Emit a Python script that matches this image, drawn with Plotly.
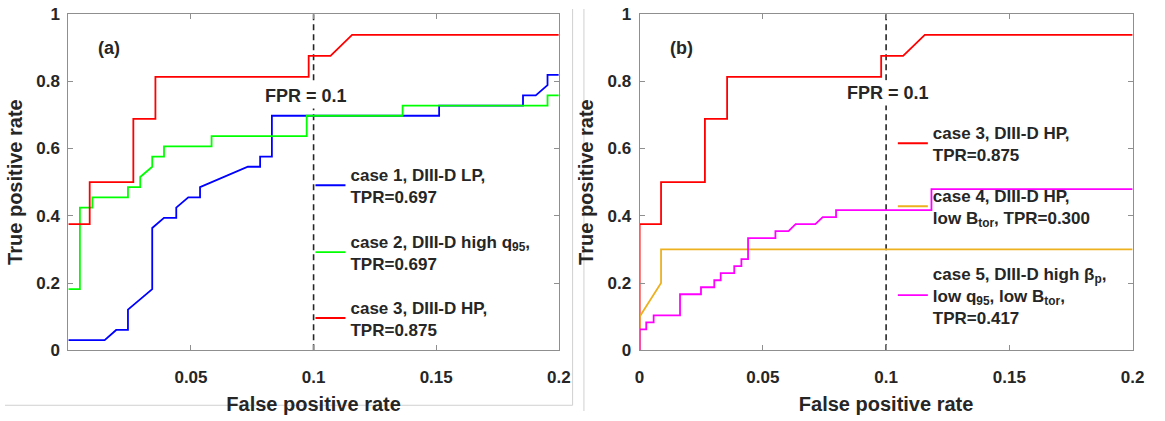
import plotly.graph_objects as go

# ---------------- data ----------------
# Panel (a)
case1_fpr = [0, 0.0148, 0.0195, 0.0243, 0.0243, 0.0342, 0.0342, 0.039, 0.044, 0.044, 0.0489, 0.0537,
             0.0537, 0.0732, 0.0782, 0.0782, 0.083, 0.083, 0.1512, 0.1512, 0.1854, 0.1854, 0.1906,
             0.1954, 0.1954, 0.2]
case1_tpr = [0.0303, 0.0303, 0.0606, 0.0606, 0.1212, 0.1818, 0.3636, 0.3939, 0.3939, 0.4242, 0.4545,
             0.4545, 0.4848, 0.5455, 0.5455, 0.5758, 0.5758, 0.697, 0.697, 0.7273, 0.7273, 0.7576,
             0.7576, 0.7879, 0.8182, 0.8182]

case2_fpr = [0, 0.0047, 0.0047, 0.0098, 0.0098, 0.0243, 0.0243, 0.0293, 0.0293, 0.0342, 0.0342, 0.039,
             0.039, 0.0584, 0.0584, 0.0972, 0.0972, 0.1363, 0.1363, 0.1954, 0.1954, 0.2]
case2_tpr = [0.1818, 0.1818, 0.4242, 0.4242, 0.4545, 0.4545, 0.4848, 0.4848, 0.5152, 0.5455, 0.5758,
             0.5758, 0.6061, 0.6061, 0.6364, 0.6364, 0.697, 0.697, 0.7273, 0.7273, 0.7576, 0.7576]

case3_fpr = [0, 0.0087, 0.0087, 0.0265, 0.0265, 0.0355, 0.0355, 0.098, 0.098, 0.1069, 0.1157, 0.2]
case3_tpr = [0.375, 0.375, 0.5, 0.5, 0.6875, 0.6875, 0.8125, 0.8125, 0.875, 0.875, 0.9375, 0.9375]

# Panel (b)
case3b_fpr = [0] + case3_fpr
case3b_tpr = [0] + case3_tpr

case4_fpr = [0, 0, 0.0087, 0.0087, 0.2]
case4_tpr = [0, 0.1, 0.2, 0.3, 0.3]

case5_fpr = [0, 0, 0.0027, 0.0027, 0.0057, 0.0057, 0.0164, 0.0164, 0.0249, 0.0249, 0.0303, 0.0303,
             0.0329, 0.0329, 0.0384, 0.0384, 0.0413, 0.0413, 0.044, 0.044, 0.0551, 0.0551, 0.0604,
             0.0633, 0.0713, 0.0743, 0.0797, 0.0797, 0.1184, 0.1184, 0.2]
case5_tpr = [0, 0.0625, 0.0625, 0.0833, 0.0833, 0.1042, 0.1042, 0.1667, 0.1667, 0.1875, 0.1875,
             0.2083, 0.2083, 0.2292, 0.2292, 0.25, 0.25, 0.2708, 0.2708, 0.3333, 0.3333, 0.3542,
             0.3542, 0.375, 0.375, 0.3958, 0.3958, 0.4167, 0.4167, 0.4792, 0.4792]

fpr_threshold = 0.1

y_ticks = [0, 0.2, 0.4, 0.6, 0.8, 1]
y_ticktext = ["0", "0.2", "0.4", "0.6", "0.8", "1"]
xa_ticks = [0.05, 0.1, 0.15, 0.2]
xa_ticktext = ["0.05", "0.1", "0.15", "0.2"]
xb_ticks = [0, 0.05, 0.1, 0.15, 0.2]
xb_ticktext = ["0", "0.05", "0.1", "0.15", "0.2"]

labels = {
    "c1": "case 1, DIII-D LP,<br>TPR=0.697",
    "c2": "case 2, DIII-D high q<sub>95</sub>,<br>TPR=0.697",
    "c3": "case 3, DIII-D HP,<br>TPR=0.875",
    "c4": "case 4, DIII-D HP,<br>low B<sub>tor</sub>, TPR=0.300",
    "c5": "case 5, DIII-D high β<sub>p</sub>,<br>low q<sub>95</sub>, low B<sub>tor</sub>,<br>TPR=0.417",
}

# ---------------- figure ----------------
W, H = 1165, 421
FONT = "Liberation Sans, Arial, sans-serif"
TXT = "#262626"
AX = "#8f8f8f"

def px_x(p):
    return p / W

def px_y(p):
    return (H - p) / H

def bold_lines(s):
    return "<br>".join("<b>%s</b>" % part for part in s.split("<br>"))

fig = go.Figure()

def add_line(x, y, color, name, xa, ya, leg):
    fig.add_trace(go.Scatter(x=x, y=y, mode="lines", name=bold_lines(name),
                             line=dict(color=color, width=1.8),
                             xaxis=xa, yaxis=ya, legend=leg, showlegend=True,
                             hoverinfo="skip"))

add_line(case1_fpr, case1_tpr, "#0000FF", labels["c1"], "x", "y", "legend")
add_line(case2_fpr, case2_tpr, "#00FF00", labels["c2"], "x", "y", "legend2")
add_line(case3_fpr, case3_tpr, "#FF0000", labels["c3"], "x", "y", "legend3")
add_line(case3b_fpr, case3b_tpr, "#FF0000", labels["c3"], "x2", "y2", "legend4")
add_line(case4_fpr, case4_tpr, "#EDB120", labels["c4"], "x2", "y2", "legend5")
add_line(case5_fpr, case5_tpr, "#FF00FF", labels["c5"], "x2", "y2", "legend6")

dom_y = [px_y(357.5), px_y(5)]
axis_common = dict(range=[0, 0.2], showline=True, mirror="ticks", linecolor=AX, linewidth=1,
                   ticks="inside", ticklen=5, tickcolor=AX, showgrid=False, zeroline=False,
                   ticklabelstandoff=11, ticklabeloverflow="allow",
                   tickfont=dict(family=FONT, size=17, color=TXT),
                   title=dict(text="<b>False positive rate</b>", font=dict(family=FONT, size=20, color=TXT),
                              standoff=11))
yaxis_common = dict(range=[0, 1], showline=True, mirror="ticks", linecolor=AX, linewidth=1,
                    ticks="inside", ticklen=5, tickcolor=AX, showgrid=False, zeroline=False,
                    ticklabelstandoff=4, ticklabeloverflow="allow",
                    tickvals=y_ticks, ticktext=["<b>%s</b>" % t for t in y_ticktext],
                    tickfont=dict(family=FONT, size=17, color=TXT), domain=dom_y,
                    title=dict(text="<b>True positive rate</b>", font=dict(family=FONT, size=20, color=TXT),
                               standoff=8))

legend_common = dict(bgcolor="rgba(0,0,0,0)", borderwidth=0, xanchor="left", yanchor="middle",
                     font=dict(family=FONT, size=17, color=TXT), itemclick=False, itemdoubleclick=False)

def leg(xp, yp):
    d = dict(legend_common)
    d.update(x=px_x(xp), y=px_y(yp))
    return d

fig.update_layout(
    width=W, height=H, margin=dict(l=0, r=0, t=0, b=0),
    paper_bgcolor="white", plot_bgcolor="white",
    xaxis=dict(axis_common, domain=[px_x(64.3), px_x(562)], anchor="y",
               tickvals=xa_ticks, ticktext=["<b>%s</b>" % t for t in xa_ticktext]),
    yaxis=dict(yaxis_common, anchor="x"),
    xaxis2=dict(axis_common, domain=[px_x(644), px_x(1144.3)], anchor="y2",
                tickvals=xb_ticks, ticktext=["<b>%s</b>" % t for t in xb_ticktext]),
    yaxis2=dict(yaxis_common, anchor="x2"),
    legend=leg(310, 185),
    legend2=leg(310, 255),
    legend3=leg(310, 324),
    legend4=leg(901, 141),
    legend5=leg(901, 207),
    legend6=leg(901, 300),
    showlegend=True,
)

# threshold lines
for xr, yr in (("x", "y"), ("x2", "y2")):
    fig.add_shape(type="line", xref=xr, yref=yr + " domain", x0=fpr_threshold, x1=fpr_threshold,
                  y0=0, y1=1, line=dict(color=TXT, width=1.6, dash="6px,4px"), layer="below")

ann_font = dict(family=FONT, size=18, color=TXT)
fig.add_annotation(xref="x", yref="y", x=0.097, y=0.757, text="<b>FPR = 0.1</b>", showarrow=False,
                   font=ann_font, bgcolor="white", borderpad=2)
fig.add_annotation(xref="x2", yref="y2", x=0.1007, y=0.764, text="<b>FPR = 0.1</b>", showarrow=False,
                   font=ann_font, bgcolor="white", borderpad=2)
fig.add_annotation(xref="x", yref="y", x=0.0165, y=0.899, text="<b>(a)</b>", showarrow=False,
                   font=dict(family=FONT, size=18, color=TXT))
fig.add_annotation(xref="x2", yref="y2", x=0.0168, y=0.899, text="<b>(b)</b>", showarrow=False,
                   font=dict(family=FONT, size=18, color=TXT))

# composite-image frame lines
frame = dict(color="#d0d0d0", width=1)
fig.add_shape(type="line", xref="paper", yref="paper", x0=0, x1=px_x(576), y0=px_y(415), y1=px_y(415), line=frame)
fig.add_shape(type="line", xref="paper", yref="paper", x0=px_x(576), x1=px_x(576), y0=px_y(415), y1=1, line=frame)
fig.add_shape(type="line", xref="paper", yref="paper", x0=px_x(587.5), x1=px_x(587.5), y0=0, y1=1, line=frame)

fig.write_html("out.html")
